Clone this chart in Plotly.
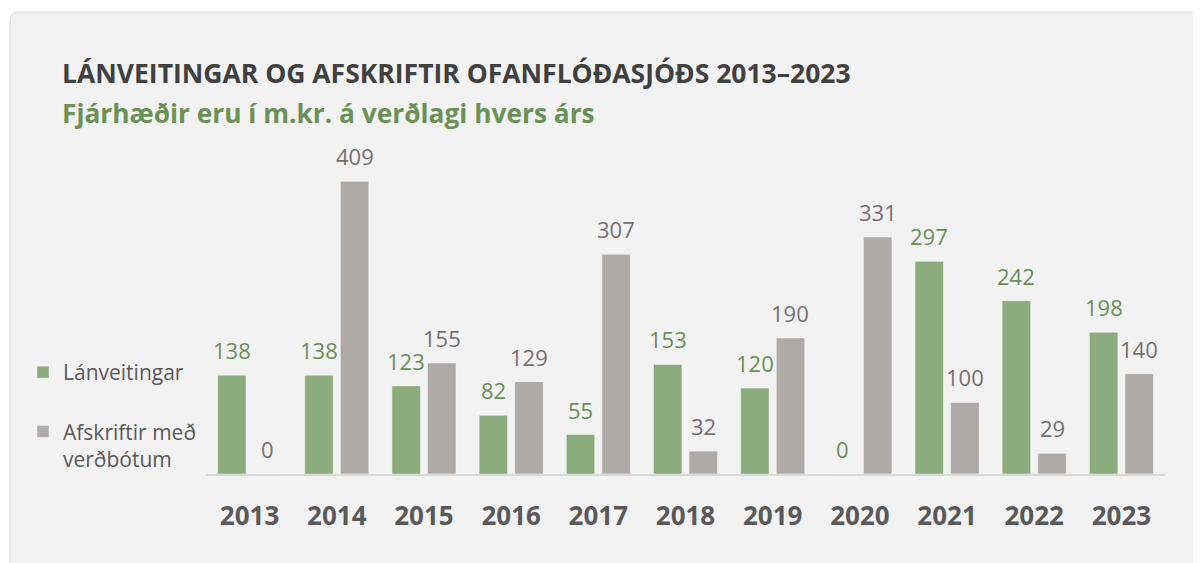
import plotly.graph_objects as go

years = ["2013", "2014", "2015", "2016", "2017", "2018", "2019", "2020", "2021", "2022", "2023"]
lanveitingar = [138, 138, 123, 82, 55, 153, 120, 0, 297, 242, 198]
afskriftir = [0, 409, 155, 129, 307, 32, 190, 331, 100, 29, 140]

series_names = ["Lánveitingar", "Afskriftir með<br>verðbótum"]
title_text = "LÁNVEITINGAR OG AFSKRIFTIR OFANFLÓÐASJÓÐS 2013–2023"
subtitle_text = "Fjárhæðir eru í m.kr. á verðlagi hvers árs"

GREEN = "#8cab7d"
GRAY = "#aeaaa8"
GREEN_TXT = "#6a8f58"
GRAY_TXT = "#757171"
FONT = "Open Sans"

OFF = 8  # page body margin
W, H = 1193, 555
ML, MR, MT, MB = 198, 36, 142, 89
PW = W - ML - MR
PH = H - MT - MB
PX_PER_UNIT = 0.716

fig = go.Figure()
fig.add_trace(go.Bar(
    x=years, y=lanveitingar, name=series_names[0], legendgroup="a",
    marker=dict(color=GREEN, line=dict(color="rgba(255,255,255,0.45)", width=1)),
    hoverinfo="skip",
))
fig.add_trace(go.Bar(
    x=years, y=afskriftir, name=series_names[1], legendgroup="b",
    marker=dict(color=GRAY, line=dict(color="rgba(255,255,255,0.45)", width=1)),
    hoverinfo="skip",
))

annotations = []
for i, (g, a) in enumerate(zip(lanveitingar, afskriftir)):
    annotations.append(dict(x=i, y=g, xref="x", yref="y", text=str(g), showarrow=False,
                            xshift=-17.8, yshift=25, yanchor="middle",
                            font=dict(family=FONT, size=22, color=GREEN_TXT)))
    annotations.append(dict(x=i, y=a, xref="x", yref="y", text=str(a), showarrow=False,
                            xshift=17.8, yshift=25, yanchor="middle",
                            font=dict(family=FONT, size=22, color=GRAY_TXT)))


def px_x(p):
    return (p - OFF - ML) / PW


def px_y(p):
    return (H - MB - (p - OFF)) / PH


annotations.append(dict(x=px_x(60), y=px_y(73), xref="paper", yref="paper", text="<b>" + title_text + "</b>",
                        showarrow=False, xanchor="left", yanchor="middle",
                        font=dict(family=FONT, size=26.5, color="#404040")))
annotations.append(dict(x=px_x(60), y=px_y(113), xref="paper", yref="paper", text="<b>" + subtitle_text + "</b>",
                        showarrow=False, xanchor="left", yanchor="middle",
                        font=dict(family=FONT, size=26.3, color="#6b9157")))

# background panel with rounded top-left corner
x0, x1 = px_x(10), px_x(1240)
yt, yb = px_y(12), px_y(620)
rx, ry = 9 / PW, 9 / PH
panel = (f"M {x0},{yb} L {x0},{yt - ry} Q {x0},{yt} {x0 + rx},{yt} "
         f"L {x1},{yt} L {x1},{yb} Z")

fig.update_layout(
    width=W, height=H,
    margin=dict(l=ML, r=MR, t=MT, b=MB, autoexpand=False),
    paper_bgcolor="white",
    plot_bgcolor="rgba(0,0,0,0)",
    barmode="group",
    bargap=0.183,
    bargroupgap=0.2,
    font=dict(family=FONT),
    showlegend=True,
    legend=dict(x=px_x(23), y=px_y(352), xanchor="left", yanchor="top",
                bgcolor="rgba(0,0,0,0)", font=dict(family=FONT, size=21, color="#595959"),
                tracegroupgap=29, valign="top", traceorder="grouped"),
    xaxis=dict(type="category", range=[-0.5, len(years) - 0.5], autorange=False,
               showline=True, linecolor="#d9d9d9", linewidth=2,
               showgrid=False, ticks="", ticklabelstandoff=18,
               tickfont=dict(family=FONT, size=26, color="#595959", weight="bold")),
    yaxis=dict(visible=False, range=[0, PH / PX_PER_UNIT], autorange=False, showgrid=False, zeroline=False),
    shapes=[dict(type="path", path=panel, xref="paper", yref="paper", layer="below",
                 fillcolor="#f2f2f2", line=dict(color="#d6d6d6", width=1))],
    annotations=annotations,
)

fig.write_html("out.html")
